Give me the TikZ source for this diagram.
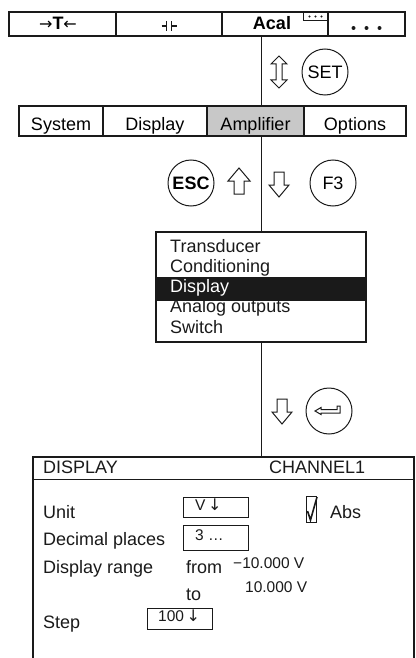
\documentclass[tikz,border=0pt]{standalone}
\usepackage{fontspec}
\setmainfont{Liberation Sans}
\newfontfamily\arrowfont{DejaVu Sans}
\usetikzlibrary{calc,positioning}
\definecolor{scrInk}{HTML}{1A1A1A}
\definecolor{scrTab}{HTML}{C8C8C8}
\newcommand{\scrarrow}[1]{{\arrowfont\fontsize{16}{18}\selectfont #1}}
\tikzset{
  topcell/.style={rectangle, draw=scrInk, line width=1.2pt, inner sep=0pt, outer sep=0pt,
    minimum height=24pt, text height=12pt, text depth=0pt, font=\fontsize{18}{20}\selectfont},
  menucell/.style={rectangle, draw=scrInk, line width=1.2pt, inner sep=0pt, outer sep=0pt,
    minimum height=30pt, text height=18pt, text depth=0pt, font=\fontsize{18}{20}\selectfont},
  keycircle/.style={circle, draw=scrInk, line width=1pt, minimum size=46pt, inner sep=0pt,
    font=\fontsize{18}{20}\selectfont},
  fieldbox/.style={rectangle, draw=scrInk, line width=1pt, inner sep=0pt, outer sep=0pt},
  scrtext/.style={anchor=base west, inner sep=0pt, text=scrInk, font=\fontsize{18}{20}\selectfont},
  fieldtext/.style={anchor=base west, inner sep=0pt, text=scrInk, font=\fontsize{15.5}{17}\selectfont},
  scrline/.style={draw=scrInk, line width=1pt},
  keyup/.pic={\draw[scrline, line join=miter] (0,-13) -- (11,0) -- (5,0) -- (5,13) -- (-5,13) -- (-5,0) -- (-11,0) -- cycle;},
  keydown/.pic={\draw[scrline, line join=miter] (0,13) -- (10,1) -- (5,1) -- (5,-12) -- (-5,-12) -- (-5,1) -- (-10,1) -- cycle;},
  keyupdown/.pic={\draw[scrline, line join=miter] (0,-16) -- (8,-8) -- (3,-8) -- (3,8) -- (8,8) -- (0,16) -- (-8,8) -- (-3,8) -- (-3,-8) -- (-8,-8) -- cycle;}
}

\begin{document}
\begin{tikzpicture}[x=1pt, y=-1pt]
\useasboundingbox (0,0) rectangle (415,658);
\coordinate (lx) at (261,0);

% function bar
\node[topcell, minimum width=107pt] (tare) at (62.5,24) {\hspace*{-9pt}\scrarrow{→}\textbf{T}\scrarrow{←}};
\node[topcell, minimum width=106pt, right=0pt of tare] (zero) {};
\node[topcell, minimum width=106pt, right=0pt of zero] (acal) {\hspace*{-6pt}\textbf{Acal}};
\node[topcell, minimum width=77pt, right=0pt of acal] (more) {};
\node[fieldbox, minimum width=25pt, minimum height=9pt, anchor=north east] (acalbox) at (acal.north east) {};
\foreach \dx in {-6,0,6}
  \fill[scrInk] ($(acalbox.center)+(\dx,0)$) circle (1.2);
\foreach \dx in {-13,0,13}
  \fill[scrInk] ($(more.center)+(\dx,4)$) circle (2);
\draw[scrline, line width=1.3pt] ($(zero.center)+(-7.5,2)$) -- ++(5,0) ++(0,-5) -- ++(0,10)
  ++(5,0) -- ++(0,-10) ++(0,5) -- ++(5,0);

\node[keycircle] (set) at (325,72) {SET};
\pic at (279,72) {keyupdown};

% menu bar
\node[menucell, minimum width=84pt] (system) at (61,121) {System};
\node[menucell, minimum width=104pt, right=0pt of system] (display) {Display};
\node[menucell, minimum width=97pt, fill=scrTab, right=0pt of display] (amp) {Amplifier};
\node[menucell, minimum width=102pt, right=0pt of amp] (options) {Options};

\node[keycircle, font=\fontsize{18}{20}\selectfont\bfseries] (esc) at (191,183) {ESC};
\pic at (239,181) {keyup};
\pic at (279,184) {keydown};
\node[keycircle] (fthree) at (333,183) {F3};

% amplifier menu
\node[fieldbox, line width=1.2pt, minimum width=210pt, minimum height=110pt] (menu) at (261,287) {};
\node[fill=scrInk, minimum width=209pt, minimum height=24pt, inner sep=0pt] (hilite) at (261,289) {};
\node[scrtext] (mtrans) at (170,252) {Transducer};
\node[scrtext] (mcond) at (170,272) {Conditioning};
\node[scrtext, text=white] (mdisp) at (170,292) {Display};
\node[scrtext] (manalog) at (170,312) {Analog outputs};
\node[scrtext] (mswitch) at (170,333) {Switch};

\pic at (282,411) {keydown};
\node[keycircle] (enter) at (329,411) {};
\draw[scrline, line join=miter, shift={(enter.center)}] (-14,0) -- (-8,-3.5) -- (-8,-1.5) -- (8,-1.5)
  -- (8,-5) -- (11,-5) -- (11,2) -- (-8,2) -- (-8,3.5) -- cycle;

% display dialog
\coordinate (dlgtop) at (261,457);
\draw[scrline, line width=1.2pt] (33,658) -- (33,457) -- (414,457) -- (414,658);
\draw[scrline] (33,479) -- (414,479);
\node[scrtext] (dlgname) at (43,473) {DISPLAY};
\node[scrtext] (dlgchan) at (269,473) {CHANNEL1};

\node[scrtext] (unit) at (43,518) {Unit};
\node[fieldbox, minimum width=65pt, minimum height=20pt] (unitbox) at (215.5,507) {};
\node[fieldtext] (unitval) at (195,510) {V\,\scrarrow{↓}};
\node[fieldbox, minimum width=10pt, minimum height=26pt] (absbox) at (311,509) {};
\draw[scrline, line width=1.6pt] (307.5,511) -- (310.5,520) -- (317,497);
\node[scrtext] (abs) at (330,518) {Abs};

\node[scrtext] (decimals) at (43,545) {Decimal places};
\node[fieldbox, minimum width=65pt, minimum height=25pt] (decbox) at (215.5,537.5) {};
\node[fieldtext] (decval) at (195,540) {3 …};

\node[scrtext] (range) at (43,573) {Display range};
\node[scrtext] (from) at (186,573) {from};
\node[fieldtext] (fromval) at (233,568) {−10.000 V};
\node[scrtext] (to) at (186,600) {to};
\node[fieldtext] (toval) at (245,592) {10.000 V};

\node[scrtext] (step) at (43,628) {Step};
\node[fieldbox, minimum width=65pt, minimum height=21pt] (stepbox) at (179.5,618.5) {};
\node[fieldtext] (stepval) at (158,621) {100\,\scrarrow{↓}};

% path through the screens
\draw[scrline] (acal.south -| lx) -- (amp.north -| lx);
\draw[scrline] (amp.south -| lx) -- (menu.north);
\draw[scrline] (menu.south) -- (dlgtop);
\end{tikzpicture}
\end{document}
